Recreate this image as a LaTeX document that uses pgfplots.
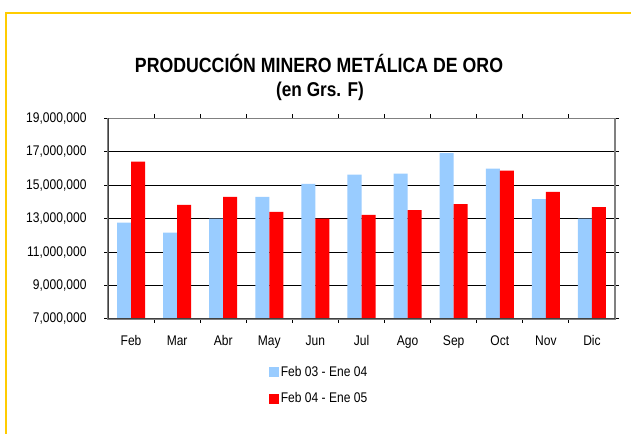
\documentclass[border=0pt]{standalone}
\usepackage{fontspec}
\setmainfont{Liberation Sans}[FakeStretch=0.86]
\usepackage{pgfplots}
\pgfplotsset{compat=1.18}
\definecolor{gold}{RGB}{255,204,0}
\definecolor{lblue}{RGB}{153,204,255}
\definecolor{framegray}{RGB}{128,128,128}
\definecolor{darkax}{RGB}{64,64,64}
\pgfplotsset{ybar legend/.style={legend image code/.code={\fill[##1] (0bp,-5bp) rectangle (10bp,5bp);}}}
\begin{document}
\begin{tikzpicture}[x=1bp,y=1bp]
\useasboundingbox (0,0) rectangle (631,434);
\fill[white] (0,0) rectangle (631,434);
\draw[gold, line width=2.8bp] (6,0) -- (6,421) -- (631,421);
\node[anchor=base, inner sep=0pt, font=\fontsize{20.6bp}{25bp}\selectfont\bfseries] at (319,361) {PRODUCCIÓN MINERO METÁLICA DE ORO};
\node[anchor=base, inner sep=0pt, font=\fontsize{20bp}{24bp}\selectfont\bfseries] at (320,337) {(en Grs. F)};
\begin{axis}[
  at={(108bp,115bp)}, anchor=south west,
  scale only axis, width=507bp, height=200.7bp,
  ybar=0pt, bar width=0.304,
  xmin=-0.5, xmax=10.5, ymin=7000000, ymax=19000000,
  xtick={0,...,10},
  xticklabels={Feb,Mar,Abr,May,Jun,Jul,Ago,Sep,Oct,Nov,Dic},
  minor xtick={0.5,1.5,...,9.5},
  ytick={7000000,9000000,11000000,13000000,15000000,17000000,19000000},
  scaled y ticks=false,
  yticklabel style={/pgf/number format/fixed, /pgf/number format/1000 sep={,}, /pgf/number format/assume math mode=true},
  yticklabel style={font=\fontsize{14bp}{16bp}\selectfont, xshift=-14bp},
  xticklabel style={font=\fontsize{14bp}{16bp}\selectfont, yshift=-9bp},
  tick align=outside,
  major tick length=4bp, minor tick length=4bp,
  major x tick style={draw=none},
  minor x tick style={black, line width=1bp},
  major y tick style={black, line width=1bp},
  ymajorgrids, major grid style={black, line width=0.9bp},
  axis line style={framegray, line width=1.5bp},
  legend style={at={(0.311,-0.214)}, anchor=north west, draw=none, fill=none,
    font=\fontsize{14bp}{16bp}\selectfont, row sep=11bp, legend cell align=left},
]
\addplot[fill=lblue, draw=none] coordinates {
(0,12760000) (1,12160000) (2,13000000) (3,14300000) (4,15080000) (5,15630000)
(6,15690000) (7,16920000) (8,15990000) (9,14170000) (10,13000000)};
\addplot[fill=red, draw=none] coordinates {
(0,16410000) (1,13820000) (2,14300000) (3,13400000) (4,13000000) (5,13220000)
(6,13510000) (7,13870000) (8,15870000) (9,14600000) (10,13690000)};
\draw[darkax, line width=2bp] (rel axis cs:0,1) -- (rel axis cs:0,0) -- (rel axis cs:1,0);
\legend{Feb 03 - Ene 04, Feb 04 - Ene 05}
\end{axis}
\end{tikzpicture}
\end{document}
